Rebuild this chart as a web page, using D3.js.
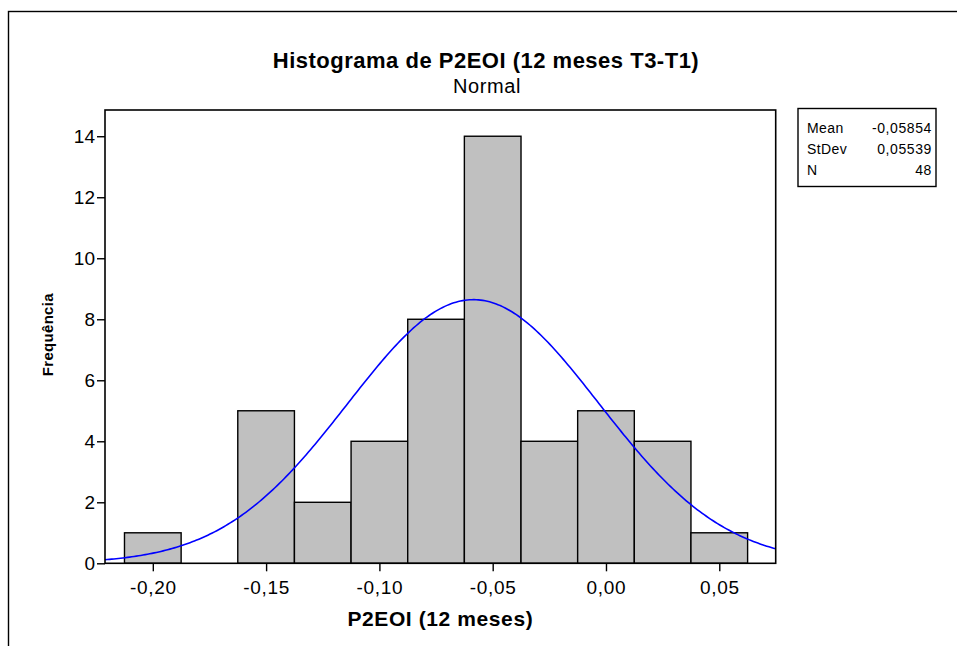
<!DOCTYPE html>
<html>
<head>
<meta charset="utf-8">
<script src="https://cdn.jsdelivr.net/npm/d3@7"></script>
<style>
  html, body { margin: 0; padding: 0; background: #fff; }
  svg { display: block; }
  text { font-family: "Liberation Sans", Arial, sans-serif; fill: #000; }
</style>
</head>
<body>
<svg id="chart" width="957" height="646"></svg>
<script>
// ---- data ----
const binCenters = [-0.200, -0.175, -0.150, -0.125, -0.100, -0.075, -0.050, -0.025, 0.000, 0.025, 0.050];
const binCounts  = [1, 0, 5, 2, 4, 8, 14, 4, 5, 4, 1];
const binWidth = 0.025;
const xTicks = [-0.20, -0.15, -0.10, -0.05, 0.00, 0.05];
const yTicks = [0, 2, 4, 6, 8, 10, 12, 14];
const statLabels = ["Mean", "StDev", "N"];
const statValues = ["-0,05854", "0,05539", "48"];
const fitMean = -0.05854, fitSd = 0.05539, fitN = 48;
const titleText = "Histograma de P2EOI (12 meses T3-T1)";
const subtitleText = "Normal";
const xLabel = "P2EOI (12 meses)";
const yLabel = "Frequência";

// ---- layout ----
const svg = d3.select("#chart");
const plot = { left: 105, right: 775.7, top: 110, bottom: 563.3 };

const x = d3.scaleLinear().domain([-0.2211, 0.0749]).range([plot.left, plot.right]);
const y = d3.scaleLinear().domain([0, 14.86]).range([plot.bottom, plot.top]);

const fmt = v => d3.format(".2f")(v).replace(".", ",").replace("−", "-");

// outer frame
svg.append("rect")
  .attr("x", 8.5).attr("y", 11.5).attr("width", 1200).attr("height", 1200)
  .attr("fill", "none").attr("stroke", "#000").attr("stroke-width", 1.4);

// title
svg.append("text").attr("x", 486).attr("y", 68).attr("text-anchor", "middle")
  .style("font-size", "22px").style("font-weight", "bold").style("letter-spacing", "0.5px")
  .text(titleText);
svg.append("text").attr("x", 487).attr("y", 93).attr("text-anchor", "middle")
  .style("font-size", "20px").style("letter-spacing", "0.6px")
  .text(subtitleText);

// bars
const g = svg.append("g");
g.selectAll("rect.bar")
  .data(binCenters.map((c, i) => ({ c, n: binCounts[i] })).filter(d => d.n > 0))
  .enter().append("rect").attr("class", "bar")
  .attr("x", d => x(d.c - binWidth / 2))
  .attr("width", d => x(d.c + binWidth / 2) - x(d.c - binWidth / 2))
  .attr("y", d => y(d.n))
  .attr("height", d => y(0) - y(d.n))
  .attr("fill", "#C0C0C0").attr("stroke", "#000").attr("stroke-width", 1.4);

// normal fit curve
const dens = v => fitN * binWidth / (fitSd * Math.sqrt(2 * Math.PI)) *
  Math.exp(-0.5 * Math.pow((v - fitMean) / fitSd, 2));
const xs = d3.range(0, 301).map(i => x.domain()[0] + (x.domain()[1] - x.domain()[0]) * i / 300);
g.append("path")
  .datum(xs)
  .attr("d", d3.line().x(v => x(v)).y(v => y(dens(v))))
  .attr("fill", "none").attr("stroke", "#0000FF").attr("stroke-width", 1.6);

// plot box
svg.append("rect")
  .attr("x", plot.left).attr("y", plot.top)
  .attr("width", plot.right - plot.left).attr("height", plot.bottom - plot.top)
  .attr("fill", "none").attr("stroke", "#000").attr("stroke-width", 1.6);

// axes
const xAxis = d3.axisBottom(x).tickValues(xTicks).tickSize(8).tickPadding(9).tickFormat(fmt);
const xg = svg.append("g").attr("transform", `translate(0,${plot.bottom})`).call(xAxis);
const yAxis = d3.axisLeft(y).tickValues(yTicks).tickSize(8).tickPadding(2).tickFormat(d3.format("d"));
const yg = svg.append("g").attr("transform", `translate(${plot.left},0)`).call(yAxis);
[xg, yg].forEach(a => {
  a.select(".domain").remove();
  a.selectAll(".tick line").attr("stroke", "#000").attr("stroke-width", 1.4);
  a.selectAll(".tick text").style("font-family", "\"Liberation Sans\", Arial, sans-serif")
    .style("font-size", "19px").attr("fill", "#000");
});
xg.selectAll(".tick text").style("letter-spacing", "0.7px");

// axis labels
svg.append("text").attr("x", (plot.left + plot.right) / 2).attr("y", 626)
  .attr("text-anchor", "middle")
  .style("font-size", "21px").style("font-weight", "bold").style("letter-spacing", "0.6px")
  .text(xLabel);
svg.append("text")
  .attr("transform", `translate(53,${(plot.top + plot.bottom) / 2 - 2}) rotate(-90)`)
  .attr("text-anchor", "middle")
  .style("font-size", "15px").style("font-weight", "bold").style("letter-spacing", "0.3px")
  .text(yLabel);

// stats legend box
const lg = svg.append("g");
lg.append("rect").attr("x", 798).attr("y", 108.5).attr("width", 138).attr("height", 78)
  .attr("fill", "#fff").attr("stroke", "#000").attr("stroke-width", 1.4);
statLabels.forEach((lab, i) => {
  lg.append("text").attr("x", 807).attr("y", 133 + i * 21)
    .style("font-size", "14px").style("letter-spacing", "0.4px").text(lab);
  lg.append("text").attr("x", 932).attr("y", 133 + i * 21).attr("text-anchor", "end")
    .style("font-size", "14px").style("letter-spacing", "0.6px").text(statValues[i]);
});
</script>
</body>
</html>
